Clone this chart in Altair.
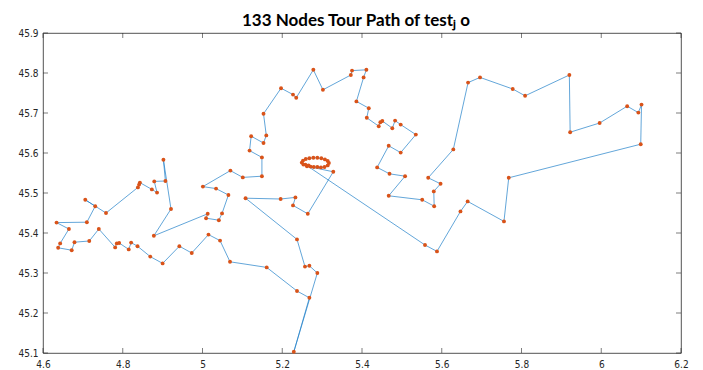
import altair as alt
import pandas as pd

# Tour order (closed loop)
tour_x = [5.229, 5.288, 5.268, 5.257, 5.237, 5.108, 5.196, 5.233, 5.227, 5.264, 5.328,
          # dense ring of nodes
          5.262, 5.253, 5.249, 5.252, 5.259, 5.268, 5.278, 5.288, 5.298, 5.307,
          5.314, 5.317, 5.314, 5.306, 5.297, 5.288, 5.279, 5.271, 5.266, 5.258,
          5.558, 5.588, 5.647, 5.665, 5.756, 5.768, 6.099, 6.101, 6.093, 6.065,
          5.996, 5.922, 5.920, 5.809, 5.778, 5.696, 5.666, 5.629, 5.566, 5.597,
          5.580, 5.581, 5.551, 5.467, 5.508, 5.469, 5.438, 5.467, 5.497, 5.535,
          5.497, 5.483, 5.476, 5.451, 5.446, 5.442, 5.412, 5.417, 5.386, 5.404,
          5.411, 5.375, 5.372, 5.302, 5.278, 5.235, 5.227, 5.197, 5.153, 5.160,
          5.153, 5.122, 5.118, 5.149, 5.149, 5.101, 5.070, 5.001, 5.034, 5.065,
          5.049, 5.041, 5.009, 5.013, 4.878, 4.921, 4.902, 4.907, 4.879, 4.886,
          4.873, 4.843, 4.841, 4.838, 4.758, 4.706, 4.731, 4.710, 4.634, 4.665,
          4.643, 4.638, 4.672, 4.679, 4.716, 4.740, 4.781, 4.785, 4.791, 4.815,
          4.821, 4.837, 4.869, 4.900, 4.942, 4.973, 5.015, 5.044, 5.069, 5.161,
          5.237, 5.268]
tour_y = [45.103, 45.300, 45.318, 45.316, 45.384, 45.487, 45.485, 45.489, 45.469, 45.448, 45.553,
          45.567, 45.571, 45.576, 45.581, 45.585, 45.587, 45.588, 45.588, 45.587, 45.584,
          45.580, 45.575, 45.569, 45.565, 45.564, 45.565, 45.565, 45.566, 45.569, 45.571,
          45.370, 45.354, 45.454, 45.479, 45.429, 45.538, 45.622, 45.721, 45.701, 45.717,
          45.675, 45.652, 45.795, 45.743, 45.760, 45.789, 45.776, 45.609, 45.538, 45.523,
          45.504, 45.467, 45.483, 45.493, 45.542, 45.548, 45.564, 45.618, 45.601, 45.646,
          45.671, 45.681, 45.662, 45.680, 45.677, 45.667, 45.688, 45.712, 45.729, 45.789,
          45.808, 45.806, 45.795, 45.758, 45.808, 45.738, 45.746, 45.762, 45.698, 45.644,
          45.625, 45.642, 45.606, 45.589, 45.542, 45.539, 45.556, 45.516, 45.511, 45.495,
          45.449, 45.432, 45.437, 45.448, 45.393, 45.460, 45.583, 45.530, 45.529, 45.501,
          45.509, 45.526, 45.521, 45.514, 45.450, 45.483, 45.467, 45.427, 45.426, 45.410,
          45.374, 45.363, 45.357, 45.377, 45.380, 45.410, 45.364, 45.374, 45.375, 45.359,
          45.376, 45.367, 45.341, 45.324, 45.367, 45.350, 45.396, 45.381, 45.328, 45.314,
          45.255, 45.238]

x_ticks = [4.6, 4.8, 5.0, 5.2, 5.4, 5.6, 5.8, 6.0, 6.2]
y_ticks = [45.1, 45.2, 45.3, 45.4, 45.5, 45.6, 45.7, 45.8, 45.9]

W, H = 638, 320

nodes = pd.DataFrame({"x": tour_x, "y": tour_y, "i": range(len(tour_x))})
path = pd.concat([nodes, nodes.iloc[[0]].assign(i=len(tour_x))], ignore_index=True)
xt = pd.DataFrame({"t": x_ticks})
yt = pd.DataFrame({"t": y_ticks})

lab_font = "DejaVu Sans Condensed"
xs = alt.Scale(domain=[4.6, 6.2], nice=False, zero=False)
ys = alt.Scale(domain=[45.1, 45.9], nice=False, zero=False)

xaxis = alt.Axis(values=x_ticks, format="~g", grid=False, domain=False, tickSize=0,
                 labelPadding=6, labelFont=lab_font, labelFontSize=10, labelColor="#262626",
                 labelFlush=False, labelOverlap=False, title=None)
yaxis = alt.Axis(values=y_ticks, format=".1f", grid=False, domain=False, tickSize=0,
                 labelPadding=5, labelFont=lab_font, labelFontSize=10, labelColor="#262626",
                 labelFlush=False, labelOverlap=False, title=None)

line = alt.Chart(path).mark_line(color="#1F7FC8", strokeWidth=0.7).encode(
    x=alt.X("x:Q", scale=xs, axis=xaxis),
    y=alt.Y("y:Q", scale=ys, axis=yaxis),
    order="i:Q",
)
pts = alt.Chart(nodes).mark_circle(color="#D95319", size=15, opacity=1).encode(
    x=alt.X("x:Q", scale=xs, axis=xaxis), y=alt.Y("y:Q", scale=ys, axis=yaxis)
)

tick_col = "#262626"
bt = alt.Chart(xt).mark_rule(color=tick_col, strokeWidth=0.6).encode(
    x=alt.X("t:Q", scale=xs, axis=xaxis), y=alt.value(H), y2=alt.value(H - 5))
tt = alt.Chart(xt).mark_rule(color=tick_col, strokeWidth=0.6).encode(
    x=alt.X("t:Q", scale=xs, axis=xaxis), y=alt.value(0), y2=alt.value(5))
lt = alt.Chart(yt).mark_rule(color=tick_col, strokeWidth=0.6).encode(
    y=alt.Y("t:Q", scale=ys, axis=yaxis), x=alt.value(0), x2=alt.value(5))
rt = alt.Chart(yt).mark_rule(color=tick_col, strokeWidth=0.6).encode(
    y=alt.Y("t:Q", scale=ys, axis=yaxis), x=alt.value(W), x2=alt.value(W - 5))

chart = alt.layer(line, pts, bt, tt, lt, rt).properties(
    width=W, height=H,
    title=alt.TitleParams("133 Nodes Tour Path of testⱼ o", font="Lato", fontSize=17,
                          fontWeight="bold", color="#000000", anchor="middle",
                          offset=-2, dx=-6),
    autosize=alt.AutoSizeParams(type="none"),
    padding={"left": 35, "top": 25, "right": 14, "bottom": 20},
).configure_view(stroke="#262626", strokeWidth=0.8)

chart.save("out.html", embed_options={"renderer": "svg", "actions": False})
